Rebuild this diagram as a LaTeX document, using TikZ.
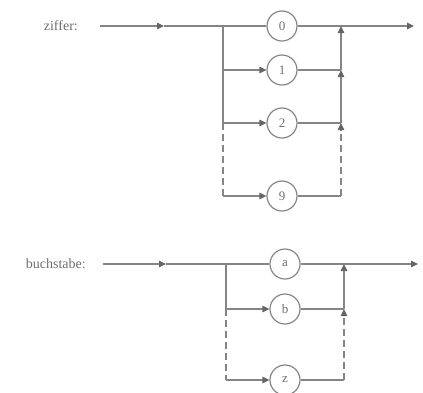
\documentclass[tikz,border=0pt]{standalone}
\usepackage{fontspec}
\setmainfont{Liberation Serif}
\usetikzlibrary{arrows.meta}
\definecolor{linegray}{HTML}{858585}
\definecolor{textgray}{HTML}{6E6E6E}
\definecolor{tipgray}{HTML}{666666}
\tikzset{
  ln/.style={draw=linegray, line width=1.2pt},
  arr/.style={-{Triangle[length=7pt,width=6.5pt,color=tipgray]}},
  dsh/.style={dash pattern=on 7pt off 4pt},
  term/.style={circle, draw=linegray, line width=1.2pt, minimum size=30pt, inner sep=0pt,
    font=\fontsize{13}{13}\selectfont, text=textgray},
  lbl/.style={anchor=east, inner sep=0pt, font=\fontsize{14}{14}\selectfont, text=textgray}
}
\begin{document}
\begin{tikzpicture}[x=1pt,y=-1pt]
\useasboundingbox (0,0) rectangle (423,392);
% ---------- ziffer ----------
\node[lbl] (zl) at (78,26) {ziffer:};
\coordinate (zs) at (100,26);
\coordinate (zm) at (164,26);
\coordinate (zj0) at (223,26);
\coordinate (zj1) at (223,70);
\coordinate (zj2) at (223,123);
\coordinate (zj9) at (223,196);
\coordinate (zk0) at (341,26);
\coordinate (zk1) at (341,70);
\coordinate (zk2) at (341,123);
\coordinate (zk9) at (341,196);
\coordinate (ze) at (414,26);
\node[term] (z0) at (282,26) {0};
\node[term] (z1) at (282,70) {1};
\node[term] (z2) at (282,123) {2};
\node[term] (z9) at (282,196) {9};
\draw[ln,arr] (zs) -- (zm);
\draw[ln] (zm) -- (z0);
\draw[ln] (z0) -- (zk0);
\draw[ln,arr] (zk0) -- (ze);
\draw[ln] (zj0) -- (zj2);
\draw[ln,dsh] (zj2) -- (zj9);
\draw[ln,arr] (zj1) -- (z1);
\draw[ln,arr] (zj2) -- (z2);
\draw[ln,arr] (zj9) -- (z9);
\draw[ln] (z1) -- (zk1);
\draw[ln] (z2) -- (zk2);
\draw[ln] (z9) -- (zk9);
\draw[ln,arr] (zk1) -- (zk0);
\draw[ln,arr] (zk2) -- (zk1);
\draw[ln,dsh,arr] (zk9) -- (zk2);
% ---------- buchstabe ----------
\node[lbl] (bl) at (86,264) {buchstabe:};
\coordinate (bs) at (103,264);
\coordinate (bm) at (166,264);
\coordinate (bj0) at (226,264);
\coordinate (bj1) at (226,309);
\coordinate (bj9) at (226,380);
\coordinate (bk0) at (344,264);
\coordinate (bk1) at (344,309);
\coordinate (bk9) at (344,380);
\coordinate (be) at (418,264);
\node[term] (ba) at (285,264) {a};
\node[term] (bb) at (285,309) {b};
\node[term] (bz) at (285,380) {z};
\draw[ln,arr] (bs) -- (bm);
\draw[ln] (bm) -- (ba);
\draw[ln] (ba) -- (bk0);
\draw[ln,arr] (bk0) -- (be);
\draw[ln] (bj0) -- (bj1);
\draw[ln,dsh] (bj1) -- (bj9);
\draw[ln,arr] (bj1) -- (bb);
\draw[ln,arr] (bj9) -- (bz);
\draw[ln] (bb) -- (bk1);
\draw[ln] (bz) -- (bk9);
\draw[ln,arr] (bk1) -- (bk0);
\draw[ln,dsh,arr] (bk9) -- (bk1);
\end{tikzpicture}
\end{document}
